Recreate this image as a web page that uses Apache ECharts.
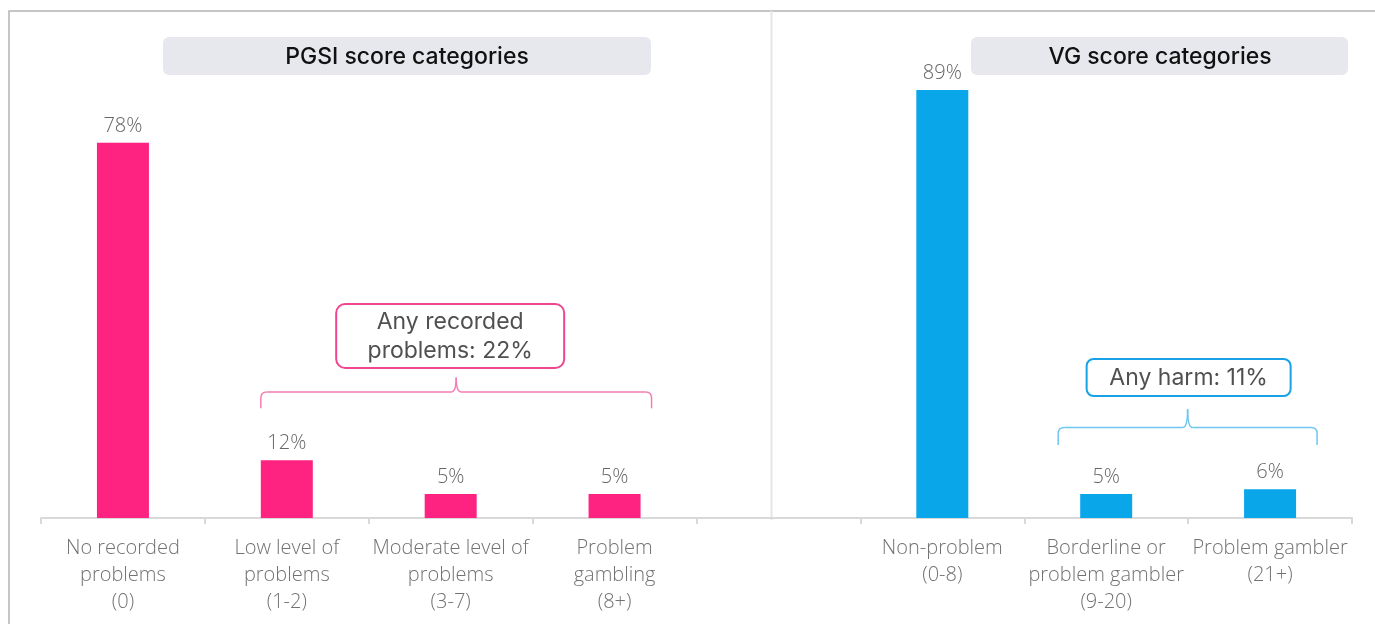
<!DOCTYPE html>
<html>
<head>
<meta charset="utf-8">
<script src="https://cdn.jsdelivr.net/npm/echarts@6/dist/echarts.min.js"></script>
<style>
  html, body { margin: 0; padding: 0; background: #ffffff; }
  #chart { width: 1375px; height: 624px; }
</style>
</head>
<body>
<div id="chart"></div>
<script>
// Share of respondents by score category (%)
const pgsiCategories = [
  'No recorded\nproblems\n(0)',
  'Low level of\nproblems\n(1-2)',
  'Moderate level of\nproblems\n(3-7)',
  'Problem\ngambling\n(8+)'
];
const pgsiValues = [78, 12, 5, 5];

const vgCategories = [
  'Non-problem\n(0-8)',
  'Borderline or\nproblem gambler\n(9-20)',
  'Problem gambler\n(21+)'
];
const vgValues = [89, 5, 6];

const panelTitles = ['PGSI score categories', 'VG score categories'];
const groupNotes = ['Any recorded\nproblems: 22%', 'Any harm: 11%'];

const PINK = '#ff2381';
const BLUE = '#0aa6ea';

// one shared category axis: the PGSI block, an empty spacer slot, then the VG block
const categories = [...pgsiCategories, '', ...vgCategories];
const pgsiData = [...pgsiValues, ...Array(1 + vgValues.length).fill('-')];
const vgData = [...Array(pgsiValues.length + 1).fill('-'), ...vgValues];

const chart = echarts.init(document.getElementById('chart'), null, { renderer: 'canvas' });

const barLabel = {
  show: true,
  position: 'top',
  distance: 7,
  formatter: '{c}%',
  color: '#666666',
  fontSize: 20,
  fontFamily: 'Open Sans',
  fontWeight: 300
};

chart.setOption({
  animation: false,
  backgroundColor: '#ffffff',
  grid: { left: 41, right: 23, top: 37, bottom: 106 },
  xAxis: {
    type: 'category',
    data: categories,
    boundaryGap: true,
    axisLine: { lineStyle: { color: '#d9d9d9', width: 2 } },
    axisTick: { show: true, interval: 0, length: 6, lineStyle: { color: '#d9d9d9', width: 2 } },
    axisLabel: {
      interval: 0,
      margin: 17,
      color: '#727272',
      fontSize: 20,
      lineHeight: 27,
      fontFamily: 'Open Sans',
      fontWeight: 300
    }
  },
  yAxis: { type: 'value', min: 0, max: 100, show: false, splitLine: { show: false } },
  series: [
    { name: 'PGSI', type: 'bar', data: pgsiData, barWidth: 52, barGap: '-100%',
      itemStyle: { color: PINK }, label: barLabel },
    { name: 'VG', type: 'bar', data: vgData, barWidth: 52, barGap: '-100%',
      itemStyle: { color: BLUE }, label: barLabel }
  ]
});

// Curly bracket spanning [x1, x2] with a small point at the middle,
// built from straight segments and quadratic curves
function bracket(x1, x2, yTop, yEnd, yPeak, color) {
  const xm = (x1 + x2) / 2, r = 6, m = 5;
  const style = { stroke: color, lineWidth: 1.5, fill: null };
  const line = (a, b, c, d) => ({ type: 'line', silent: true, shape: { x1: a, y1: b, x2: c, y2: d }, style });
  const curve = (a, b, cx, cy, c, d) => ({ type: 'bezierCurve', silent: true,
    shape: { x1: a, y1: b, cpx1: cx, cpy1: cy, x2: c, y2: d }, style });
  return [
    line(x1, yEnd, x1, yTop + r),
    curve(x1, yTop + r, x1, yTop, x1 + r, yTop),
    line(x1 + r, yTop, xm - m, yTop),
    curve(xm - m, yTop, xm, yTop, xm, yPeak),
    curve(xm, yPeak, xm, yTop, xm + m, yTop),
    line(xm + m, yTop, x2 - r, yTop),
    curve(x2 - r, yTop, x2, yTop, x2, yTop + r),
    line(x2, yTop + r, x2, yEnd)
  ];
}

function px(idx, val) {
  return chart.convertToPixel({ xAxisIndex: 0, yAxisIndex: 0 }, [idx, val]);
}

function drawDecorations() {
  const titleFont = { fontFamily: 'Inter', fontSize: 23, fontWeight: 500, fill: '#111111' };
  const noteFont = { fontFamily: 'Inter', fontSize: 23, fontWeight: 400, fill: '#505050', lineHeight: 29 };

  // bracket ends anchored on the bars they group
  const pLeft = px(1, 26)[0] - 26, pRight = px(3, 26)[0] + 37;
  const pTop = px(0, 26.2)[1], pEnd = px(0, 22.8)[1], pPeak = px(0, 29.2)[1];
  const vLeft = px(6, 18)[0] - 48, vRight = px(7, 18)[0] + 47;
  const vTop = px(0, 18.8)[1], vEnd = px(0, 15.2)[1], vPeak = px(0, 22.6)[1];
  const pMid = (pLeft + pRight) / 2, vMid = (vLeft + vRight) / 2;
  const sepX = (px(3, 0)[0] + px(4, 0)[0]) / 2 + 75;

  chart.setOption({
    graphic: [
      // outer frame (top and left edges)
      { type: 'polyline', silent: true, shape: { points: [[9, 624], [9, 11], [1375, 11]] },
        style: { stroke: '#b4b4b4', lineWidth: 1.5, fill: null } },
      // divider between the two panels
      { type: 'line', silent: true, shape: { x1: sepX, y1: 11, x2: sepX, y2: 520 },
        style: { stroke: '#e6e6e6', lineWidth: 2 } },

      // panel headers
      { type: 'rect', silent: true, shape: { x: 163, y: 37, width: 488, height: 38, r: 6 },
        style: { fill: '#e7e8ed' } },
      { type: 'text', silent: true, x: 407, y: 57,
        style: Object.assign({ text: panelTitles[0], align: 'center', verticalAlign: 'middle' }, titleFont) },
      { type: 'rect', silent: true, shape: { x: 971, y: 37, width: 377, height: 38, r: 6 },
        style: { fill: '#e7e8ed' } },
      { type: 'text', silent: true, x: 1160, y: 57,
        style: Object.assign({ text: panelTitles[1], align: 'center', verticalAlign: 'middle' }, titleFont) },

      // PGSI group note and bracket
      ...bracket(pLeft, pRight, pTop, pEnd, pPeak, '#f57db2'),
      { type: 'rect', silent: true, shape: { x: pMid - 120, y: 304, width: 228, height: 64, r: 9 },
        style: { fill: '#ffffff', stroke: '#f0458f', lineWidth: 2 } },
      { type: 'text', silent: true, x: pMid - 6, y: 337,
        style: Object.assign({ text: groupNotes[0], align: 'center', verticalAlign: 'middle' }, noteFont) },

      // VG group note and bracket
      ...bracket(vLeft, vRight, vTop, vEnd, vPeak, '#6cc6f0'),
      { type: 'rect', silent: true, shape: { x: vMid - 101, y: 359, width: 204, height: 37, r: 7 },
        style: { fill: '#ffffff', stroke: '#1aa2e6', lineWidth: 2 } },
      { type: 'text', silent: true, x: vMid + 1, y: 378,
        style: Object.assign({ text: groupNotes[1], align: 'center', verticalAlign: 'middle' }, noteFont) }
    ]
  });
}

drawDecorations();
</script>
</body>
</html>
